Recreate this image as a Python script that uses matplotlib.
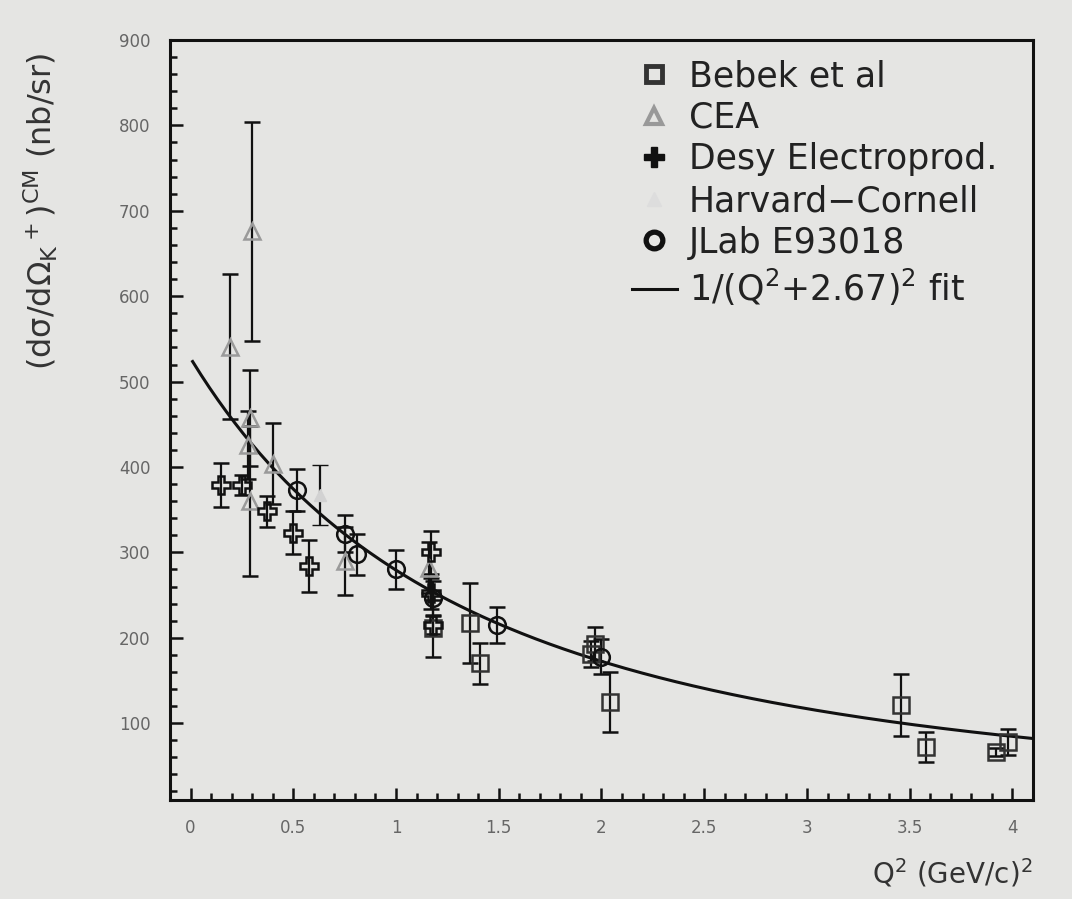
import numpy as np
import matplotlib.pyplot as plt
from matplotlib.ticker import MultipleLocator

# values
bebek_x = [1.18, 1.36, 1.41, 1.95, 1.97, 2.04, 3.46, 3.58, 3.92, 3.98]
bebek_y = [211, 217, 170, 181, 193, 125, 121, 72, 66, 78]
bebek_e = [33, 47, 24, 15, 20, 35, 36, 18, 5, 15]

cea_x = [0.19, 0.30, 0.29, 0.28, 0.29, 0.40, 0.75, 1.16]
cea_y = [541, 676, 457, 426, 360, 404, 290, 282]
cea_e = [85, 128, 56, 40, 88, 47, 40, 30]

desy_x = [0.15, 0.25, 0.37, 0.50, 0.575, 1.17, 1.17, 1.18]
desy_y = [379, 379, 348, 323, 284, 300, 252, 215]
desy_e = [26, 12, 18, 25, 30, 25, 18, 10]

hc_x = [0.63]
hc_y = [367]
hc_e = [35]

jlab_x = [0.52, 0.75, 0.81, 1.00, 1.18, 1.49, 2.00]
jlab_y = [373, 322, 298, 280, 247, 215, 178]
jlab_e = [25, 22, 24, 23, 20, 21, 20]

fit_norm = 3760.0
fit_m2 = 2.67

bg = '#e5e5e3'
plt.rcParams['font.family'] = ['DejaVu Sans']
plt.rcParams['mathtext.default'] = 'regular'

fig = plt.figure(figsize=(10.72, 8.99), dpi=100, facecolor=bg)
ax = fig.add_axes([0.1586, 0.1101, 0.805, 0.8454])
ax.set_facecolor(bg)

ebkw = dict(ls='none', ecolor='#111111', elinewidth=1.6, capsize=6, capthick=1.6)

ax.errorbar(bebek_x, bebek_y, yerr=bebek_e, marker='s', ms=12, mfc='none',
            mec='#333333', mew=1.8, **ebkw)
ax.errorbar(cea_x, cea_y, yerr=cea_e, marker='^', ms=11, mfc='none',
            mec='#9a9a9a', mew=1.8, **ebkw)
ax.errorbar(desy_x, desy_y, yerr=desy_e, marker='P', ms=13, mfc='none',
            mec='#111111', mew=1.8, **ebkw)
ax.errorbar(hc_x, hc_y, yerr=hc_e, marker='^', ms=9, mfc='#d2d2d2',
            mec='#d2d2d2', mew=1, **ebkw)
ax.errorbar(jlab_x, jlab_y, yerr=jlab_e, marker='o', ms=12, mfc='none',
            mec='#111111', mew=1.8, **ebkw)

q = np.linspace(0.01, 4.1, 300)
ax.plot(q, fit_norm / (q + fit_m2) ** 2, color='#111111', lw=2.2)

# legend handles
h1, = ax.plot([], [], 's', ms=12, mfc='none', mec='#333333', mew=3.5)
h2, = ax.plot([], [], '^', ms=12, mfc='none', mec='#999999', mew=3)
h3, = ax.plot([], [], 'P', ms=15, mfc='#111111', mec='#111111')
h4, = ax.plot([], [], '^', ms=10, mfc='#dddddd', mec='#dddddd')
h5, = ax.plot([], [], 'o', ms=12, mfc='none', mec='#111111', mew=3.8)
h6, = ax.plot([], [], '-', color='#111111', lw=2.2)
leg = ax.legend([h1, h2, h3, h4, h5, h6],
                ['Bebek et al', 'CEA', 'Desy Electroprod.', 'Harvard\u2212Cornell',
                 'JLab E93018', r'$1/(Q^2$+2.67$)^2$ fit'],
                loc='upper right', bbox_to_anchor=(0.995, 1.016), frameon=False,
                fontsize=25, labelspacing=0.22, handlelength=1.3,
                handletextpad=0.35, labelcolor='#222222')

ax.set_xlim(-0.1, 4.1)
ax.set_ylim(10, 900)
ax.xaxis.set_minor_locator(MultipleLocator(0.1))
ax.yaxis.set_minor_locator(MultipleLocator(20))
ax.set_xticks([0, 0.5, 1, 1.5, 2, 2.5, 3, 3.5, 4])
ax.set_xticklabels(['0', '0.5', '1', '1.5', '2', '2.5', '3', '3.5', '4'])
ax.set_yticks(range(100, 901, 100))
ax.tick_params(which='both', direction='in', top=False, right=False,
               width=1.8, color='#111111')
ax.tick_params(which='major', length=9, labelsize=12, labelcolor='#666666', pad=14)
ax.tick_params(which='minor', length=5)
for s in ax.spines.values():
    s.set_linewidth(2.2)
    s.set_color('#111111')

ax.set_ylabel(r'$(d\sigma/d\Omega_K{}^+)^{CM}$ (nb/sr)', fontsize=23,
              color='#333333')
ax.yaxis.set_label_coords(-0.128, 0.775)
ax.set_xlabel(r'$Q^2$ (GeV/c)$^2$', fontsize=20, color='#333333')
ax.xaxis.set_label_coords(1.0, -0.075)
ax.xaxis.label.set_horizontalalignment('right')

plt.savefig('out.png', dpi=100, facecolor=bg)
